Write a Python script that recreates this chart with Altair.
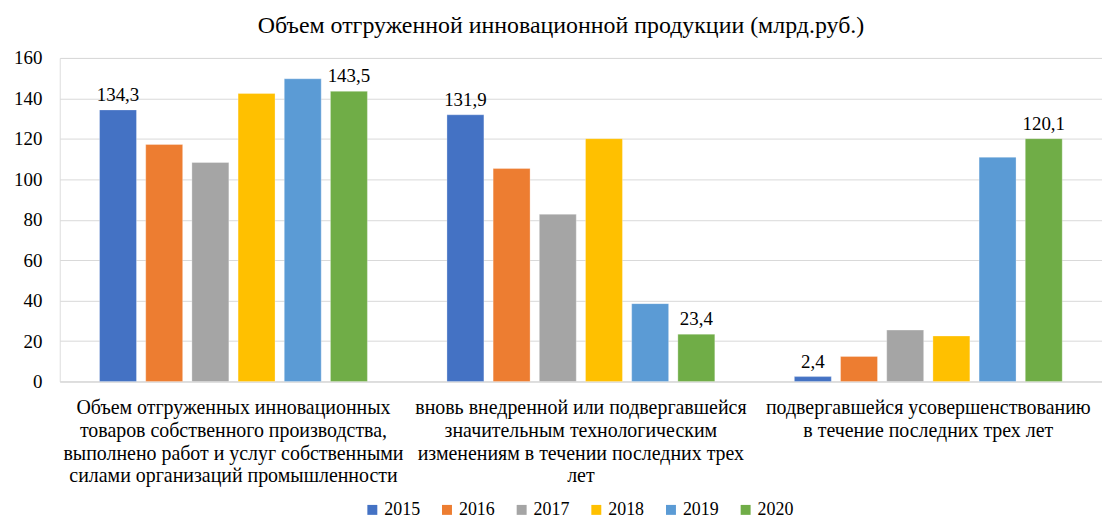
import altair as alt
import pandas as pd

categories = [
    "Объем отгруженных инновационных|товаров собственного производства,|выполнено работ и услуг собственными|силами организаций промышленности",
    "вновь внедренной или подвергавшейся|значительным технологическим|изменениям в течении последних трех|лет",
    "подвергавшейся усовершенствованию|в течение последних трех лет",
]
years = ["2015", "2016", "2017", "2018", "2019", "2020"]
colors = ["#4472C4", "#ED7D31", "#A5A5A5", "#FFC000", "#5B9BD5", "#70AD47"]

v2015 = [134.3, 131.9, 2.4]
v2016 = [117.2, 105.3, 12.4]
v2017 = [108.3, 82.7, 25.4]
v2018 = [142.4, 120.1, 22.5]
v2019 = [149.7, 38.5, 110.9]
v2020 = [143.5, 23.4, 120.1]
labeled_years = ["2015", "2020"]

series = [v2015, v2016, v2017, v2018, v2019, v2020]
rows = []
for y, vals in zip(years, series):
    for c, v in zip(categories, vals):
        lab = f"{v:.1f}".replace(".", ",") if y in labeled_years else ""
        rows.append({"category": c, "year": y, "value": v, "label": lab})
df = pd.DataFrame(rows)

FONT = "serif"

x_enc = alt.X(
    "category:N",
    sort=categories,
    scale=alt.Scale(paddingInner=0.229, paddingOuter=0.1145),
    axis=alt.Axis(
        title=None,
        labelAngle=0,
        labelExpr="split(datum.label, '|')",
        labelFont=FONT,
        labelFontSize=20,
        labelColor="#000000",
        labelLimit=400,
        labelLineHeight=23,
        labelPadding=16,
        labelBaseline="top",
        ticks=False,
        domainColor="#d9d9d9",
        domainWidth=1,
        grid=False,
    ),
)
xoff = alt.XOffset("year:N", sort=years, scale=alt.Scale(paddingInner=0.2, paddingOuter=0))

base = alt.Chart(df).encode(x=x_enc, xOffset=xoff)

bars = base.mark_bar(stroke="white", strokeWidth=0.5, strokeOpacity=0.6).encode(
    y=alt.Y(
        "value:Q",
        scale=alt.Scale(domain=[0, 160], nice=False),
        axis=alt.Axis(
            title=None,
            values=[0, 20, 40, 60, 80, 100, 120, 140, 160],
            labelFont=FONT,
            labelFontSize=19,
            labelColor="#000000",
            labelPadding=18,
            ticks=False,
            domain=False,
            gridColor="#d9d9d9",
            gridWidth=1,
        ),
    ),
    color=alt.Color(
        "year:N",
        sort=years,
        scale=alt.Scale(domain=years, range=colors),
        legend=alt.Legend(
            title=None,
            orient="none",
            direction="horizontal",
            legendX=305,
            legendY=445,
            symbolType="square",
            symbolSize=100,
            symbolStrokeWidth=0,
            labelFont=FONT,
            labelFontSize=18,
            labelColor="#000000",
            labelOffset=3,
            columnPadding=18,
        ),
    ),
)

texts = base.mark_text(
    baseline="bottom", dy=-5, font=FONT, fontSize=19, color="#000000"
).encode(y="value:Q", text="label:N")

chart = (
    alt.layer(bars, texts)
    .properties(
        width=1047,
        height=325,
        padding={"left": 5, "top": 5, "right": 0, "bottom": 5},
        title=alt.TitleParams(
            text="Объем отгруженной инновационной продукции (млрд.руб.)",
            font=FONT,
            fontSize=24,
            fontWeight="normal",
            color="#000000",
            anchor="middle",
            dx=-20,
            offset=11,
        ),
    )
    .configure_view(stroke=None)
    .configure(background="white")
)

chart.save("out.html", embed_options={"renderer": "svg", "actions": False})
